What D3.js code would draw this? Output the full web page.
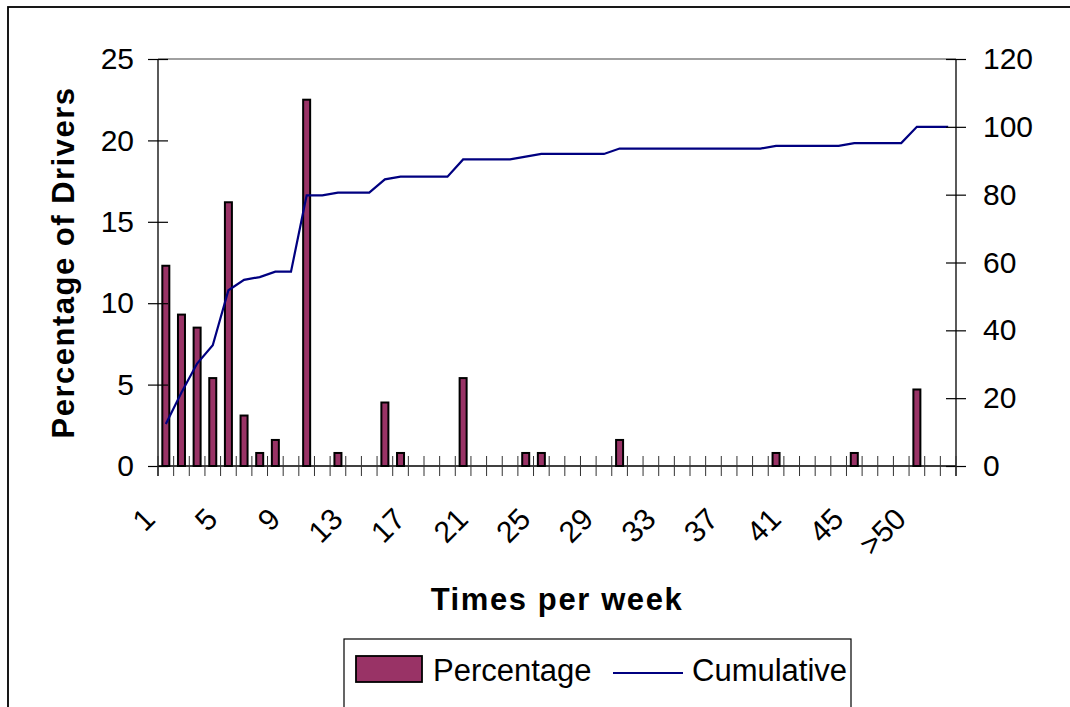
<!DOCTYPE html>
<html>
<head>
<meta charset="utf-8">
<script src="https://cdn.jsdelivr.net/npm/d3@7"></script>
<style>
    body { margin: 0; background: #fff; }
    svg { display: block; font-family: "Liberation Sans", Arial, sans-serif; }
</style>
</head>
<body>
<div id="chart"></div>
<script>
// times per week bins (index 48 is the ">50" bin, last two are empty)
let categories = ["1", "2", "3", "4", "5", "6", "7", "8", "9", "10",
    "11", "12", "13", "14", "15", "16", "17", "18", "19", "20",
    "21", "22", "23", "24", "25", "26", "27", "28", "29", "30",
    "31", "32", "33", "34", "35", "36", "37", "38", "39", "40",
    "41", "42", "43", "44", "45", "46", "47", "48", ">50", "", ""];

// percentage of drivers per bin
let percentage = [12.3, 9.3, 8.5, 5.4, 16.2, 3.1, 0.8, 1.6, 0, 22.5,
    0, 0.8, 0, 0, 3.9, 0.8, 0, 0, 0, 5.4,
    0, 0, 0, 0.8, 0.8, 0, 0, 0, 0, 1.6,
    0, 0, 0, 0, 0, 0, 0, 0, 0, 0.8,
    0, 0, 0, 0, 0.8, 0, 0, 0, 4.7, 0, 0];

// cumulative percentage
let cumulative = [12.4, 21.7, 30.2, 35.6, 51.8, 54.9, 55.7, 57.3, 57.3, 79.8,
    79.8, 80.6, 80.6, 80.6, 84.5, 85.3, 85.3, 85.3, 85.3, 90.4,
    90.4, 90.4, 90.4, 91.2, 92.0, 92.0, 92.0, 92.0, 92.0, 93.6,
    93.6, 93.6, 93.6, 93.6, 93.6, 93.6, 93.6, 93.6, 93.6, 94.4,
    94.4, 94.4, 94.4, 94.4, 95.2, 95.2, 95.2, 95.2, 100, 100, 100];

let leftTicks = [0, 5, 10, 15, 20, 25];
let rightTicks = [0, 20, 40, 60, 80, 100, 120];

let data = categories.map((c, i) => ({cat: c, idx: i, pct: percentage[i], cum: cumulative[i]}));

let width = 1070, height = 707;
let plot = {left: 158, right: 956, top: 59, bottom: 466};

let svg = d3.select("#chart").append("svg")
    .attr("width", width)
    .attr("height", height);

// outer chart frame (runs off the right and bottom edges)
svg.append("rect")
    .attr("x", 8).attr("y", 7)
    .attr("width", 1100).attr("height", 760)
    .attr("fill", "none")
    .attr("stroke", "#000")
    .attr("stroke-width", 1.8);

let x = d3.scaleBand()
    .domain(data.map(d => d.idx))
    .range([plot.left, plot.right])
    .padding(0);

let yLeft = d3.scaleLinear().domain([0, 25]).range([plot.bottom, plot.top]);
let yRight = d3.scaleLinear().domain([0, 120]).range([plot.bottom, plot.top]);

// plot area top border
svg.append("line")
    .attr("x1", plot.left).attr("x2", plot.right)
    .attr("y1", plot.top).attr("y2", plot.top)
    .attr("stroke", "#808080")
    .attr("stroke-width", 1.5);

// bars
let barW = 7;
svg.append("g").selectAll("rect")
    .data(data.filter(d => d.pct > 0))
    .join("rect")
    .attr("x", d => x(d.idx) + x.bandwidth() / 2 - barW / 2)
    .attr("y", d => yLeft(d.pct))
    .attr("width", barW)
    .attr("height", d => yLeft(0) - yLeft(d.pct))
    .attr("fill", "#993366")
    .attr("stroke", "#000")
    .attr("stroke-width", 2);

// cumulative line
let line = d3.line()
    .x(d => x(d.idx) + x.bandwidth() / 2)
    .y(d => yRight(d.cum));

svg.append("path")
    .datum(data)
    .attr("fill", "none")
    .attr("stroke", "#000080")
    .attr("stroke-width", 2.2)
    .attr("d", line);

// left axis
let leftAxis = svg.append("g")
    .attr("transform", "translate(" + plot.left + ",0)")
    .call(d3.axisLeft(yLeft).tickValues(leftTicks).tickSize(10).tickPadding(14));
leftAxis.select(".domain").attr("stroke", "#000").attr("stroke-width", 1.3)
    .attr("d", "M0," + plot.top + "V" + (plot.bottom + 10));
leftAxis.selectAll(".tick line").attr("x1", 10).attr("x2", -10).attr("stroke", "#000").attr("stroke-width", 1.2);
leftAxis.selectAll(".tick text")
    .attr("x", -24)
    .style("font-size", "30px")
    .style("font-family", "'Liberation Sans', Arial, sans-serif")
    .attr("fill", "#000");

// right axis
let rightAxis = svg.append("g")
    .attr("transform", "translate(" + plot.right + ",0)")
    .call(d3.axisRight(yRight).tickValues(rightTicks).tickSize(10));
rightAxis.select(".domain").attr("stroke", "#000").attr("stroke-width", 1.3)
    .attr("d", "M0," + plot.top + "V" + (plot.bottom + 10));
rightAxis.selectAll(".tick line").attr("x1", -10).attr("x2", 10).attr("stroke", "#000").attr("stroke-width", 1.2);
rightAxis.selectAll(".tick text")
    .attr("x", 27)
    .style("font-size", "30px")
    .style("font-family", "'Liberation Sans', Arial, sans-serif")
    .attr("fill", "#000");

// x axis baseline and ticks at category boundaries
let xg = svg.append("g");
xg.append("line")
    .attr("x1", plot.left).attr("x2", plot.right)
    .attr("y1", plot.bottom).attr("y2", plot.bottom)
    .attr("stroke", "#000")
    .attr("stroke-width", 1.3);

let boundaries = data.map(d => x(d.idx)).concat([plot.right]);
xg.selectAll(".xtick")
    .data(boundaries)
    .join("line")
    .attr("class", "xtick")
    .attr("x1", d => d).attr("x2", d => d)
    .attr("y1", plot.bottom - 10).attr("y2", plot.bottom + 10)
    .attr("stroke", "#333")
    .attr("stroke-width", 1);

// every 4th category gets a label
xg.selectAll(".xlabel")
    .data(data.filter(d => d.idx % 4 === 0))
    .join("text")
    .attr("class", "xlabel")
    .attr("transform", d => "translate(" + (x(d.idx) + x.bandwidth() / 2 - 9) + "," + (plot.bottom + 55) + ") rotate(-45)")
    .attr("text-anchor", "end")
    .style("font-size", "30px")
    .text(d => d.cat);

// axis titles
svg.append("text")
    .attr("x", (plot.left + plot.right) / 2)
    .attr("y", 610)
    .attr("text-anchor", "middle")
    .style("font-size", "31px")
    .style("font-weight", "bold")
    .style("letter-spacing", "1.6px")
    .text("Times per week");

svg.append("text")
    .attr("transform", "translate(74," + ((plot.top + plot.bottom) / 2) + ") rotate(-90)")
    .attr("text-anchor", "middle")
    .style("font-size", "31px")
    .style("font-weight", "bold")
    .style("letter-spacing", "1.5px")
    .text("Percentage of Drivers");

// legend
let legend = svg.append("g");
legend.append("rect")
    .attr("x", 344).attr("y", 639)
    .attr("width", 507).attr("height", 120)
    .attr("fill", "#fff")
    .attr("stroke", "#000")
    .attr("stroke-width", 1.2);

legend.append("rect")
    .attr("x", 356).attr("y", 656)
    .attr("width", 66).attr("height", 26)
    .attr("fill", "#993366")
    .attr("stroke", "#000")
    .attr("stroke-width", 1.8);

legend.append("text")
    .attr("x", 433).attr("y", 681)
    .style("font-size", "31px")
    .text("Percentage");

legend.append("line")
    .attr("x1", 613).attr("x2", 683)
    .attr("y1", 673).attr("y2", 673)
    .attr("stroke", "#000080")
    .attr("stroke-width", 2.2);

legend.append("text")
    .attr("x", 692).attr("y", 681)
    .style("font-size", "31px")
    .text("Cumulative");
</script>
</body>
</html>
